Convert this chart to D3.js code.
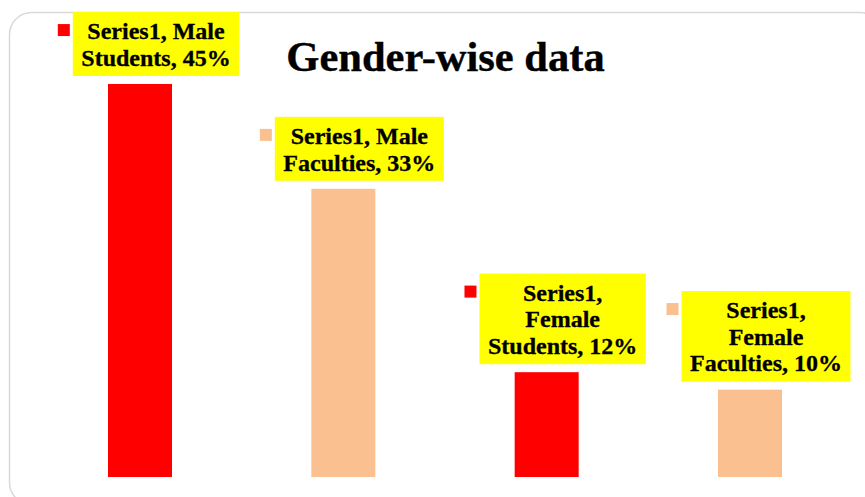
<!DOCTYPE html>
<html>
<head>
<meta charset="utf-8">
<script src="https://cdn.jsdelivr.net/npm/d3@7"></script>
<style>
  html, body { margin: 0; padding: 0; background: #fff; }
  svg { display: block; }
</style>
</head>
<body>
<div id="chart"></div>
<script>
var seriesName = "Series1";
var categories = ["Male Students", "Male Faculties", "Female Students", "Female Faculties"];
var values = [45, 33, 12, 10];
var barColors = ["#ff0000", "#fac090", "#ff0000", "#fac090"];
var title = "Gender-wise data";

var width = 865, height = 497;

var svg = d3.select("#chart")
    .append("svg")
    .attr("width", width)
    .attr("height", height);

// chart area frame
svg.append("rect")
    .attr("x", 9.5)
    .attr("y", 12.5)
    .attr("width", 872)
    .attr("height", 492)
    .attr("rx", 22)
    .attr("fill", "#fff")
    .attr("stroke", "#d9d9d9")
    .attr("stroke-width", 1.5);

var data = categories.map(function(c, i) {
    return { cat: c, value: values[i], color: barColors[i] };
});

var xScale = d3.scalePoint()
    .domain(categories)
    .range([140, 750]);

var yScale = d3.scaleLinear()
    .domain([0, 50])
    .range([477, 40.3]);

var barWidth = 64;

svg.selectAll("rect.bar")
    .data(data)
    .join("rect")
    .attr("class", "bar")
    .attr("x", d => xScale(d.cat) - barWidth / 2)
    .attr("y", d => yScale(d.value))
    .attr("width", barWidth)
    .attr("height", d => yScale(0) - yScale(d.value))
    .attr("fill", d => d.color);

/* title */
svg.append("text")
    .attr("x", 445.5)
    .attr("y", 71)
    .attr("text-anchor", "middle")
    .style("font-family", "'Liberation Serif', 'Times New Roman', serif")
    .style("font-size", "42.5px")
    .style("font-weight", "bold")
    .attr("fill", "#000")
    .attr("stroke", "#000")
    .attr("stroke-width", 0.4)
    .text(title);

/* data labels */
var fontSize = 24, lineH = 26.7, maxW = 155, padX = 8.5;

var labels = svg.selectAll("g.lbl")
    .data(data)
    .join("g")
    .attr("class", "lbl");

labels.each(function(d) {
    var g = d3.select(this);
    var words = (seriesName + ", " + d.cat + ", " + d.value + "%").split(" ");
    var box = g.append("rect").attr("fill", "#ffff00");
    var txt = g.append("text")
        .attr("text-anchor", "middle")
        .style("font-family", "'Liberation Serif', 'Times New Roman', serif")
        .style("font-size", fontSize + "px")
        .style("font-weight", "bold")
        .attr("fill", "#000")
        .attr("stroke", "#000")
        .attr("stroke-width", 0.3);

    // wrap words
    var lines = [], cur = [];
    var probe = txt.append("tspan");
    words.forEach(function(w) {
        var test = cur.concat([w]).join(" ");
        probe.text(test);
        if (cur.length && probe.node().getComputedTextLength() > maxW) {
            lines.push(cur.join(" "));
            cur = [w];
        } else {
            cur.push(w);
        }
    });
    lines.push(cur.join(" "));
    probe.remove();

    var cx = xScale(d.cat) + 16;
    var boxH = lines.length * lineH + 10.5;
    var boxBottom = yScale(d.value) - 8;
    var boxTop = boxBottom - boxH;

    var maxLen = 0;
    lines.forEach(function(l, i) {
        var t = txt.append("tspan")
            .attr("x", cx)
            .attr("y", boxTop + 27 + i * lineH)
            .text(l);
        maxLen = Math.max(maxLen, t.node().getComputedTextLength());
    });

    var boxW = maxLen + 2 * padX;
    box.attr("x", cx - boxW / 2)
        .attr("y", boxTop)
        .attr("width", boxW)
        .attr("height", boxH);

    // legend key
    g.append("rect")
        .attr("x", cx - boxW / 2 - 15)
        .attr("y", boxTop + 12)
        .attr("width", 12)
        .attr("height", 12)
        .attr("fill", d.color);
});
</script>
</body>
</html>
